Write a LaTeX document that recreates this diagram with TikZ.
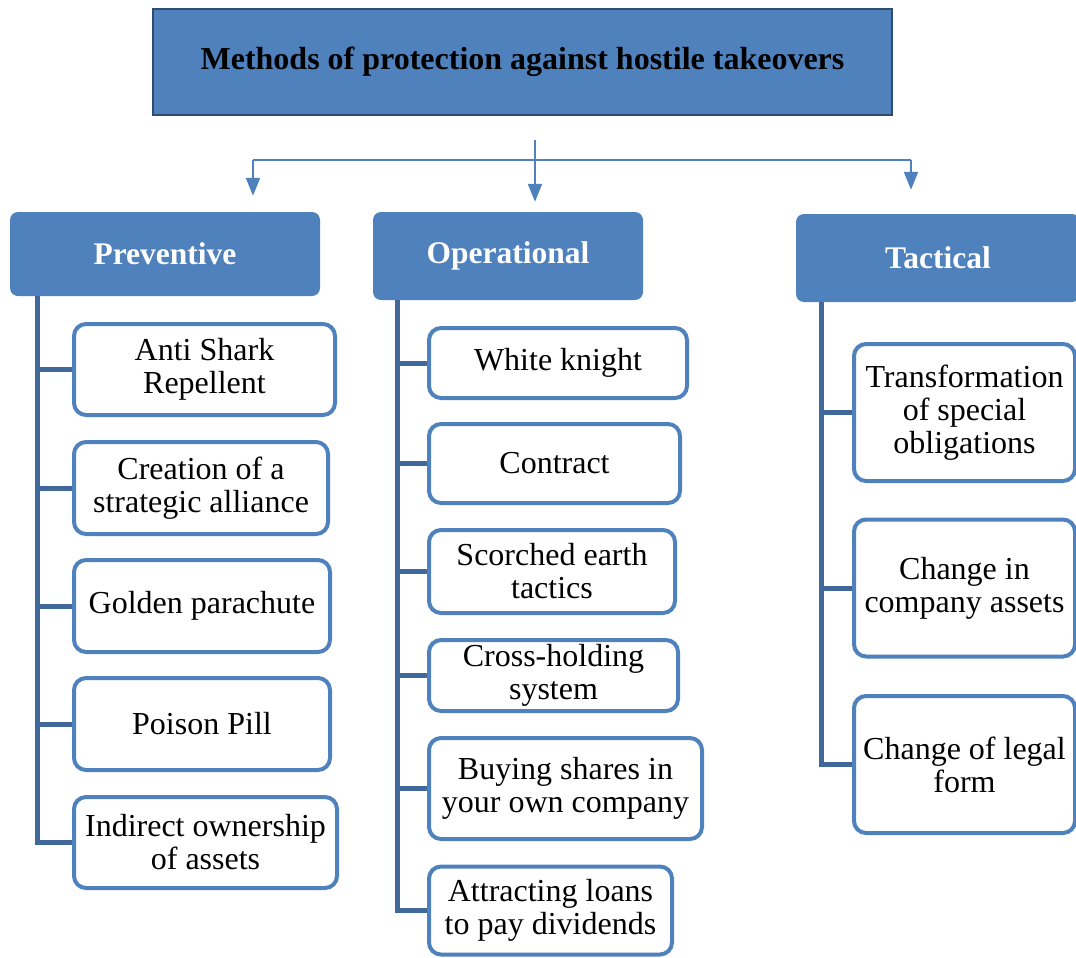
\documentclass[tikz,border=0pt]{standalone}
\usepackage{fontspec}
\setmainfont{Liberation Serif}
\usetikzlibrary{arrows.meta, positioning, calc}
\definecolor{hdblue}{HTML}{4F81BD}
\definecolor{hdborder}{HTML}{2F4B70}
\definecolor{branchblue}{HTML}{41689A}

\begin{document}
\begin{tikzpicture}[x=1pt, y=-1pt,
  titlebox/.style={draw=hdborder, fill=hdblue, line width=2.5pt, minimum width=739pt, minimum height=106pt, font=\fontsize{32}{34}\selectfont\bfseries},
  headbox/.style={fill=hdblue, rounded corners=8pt, text=white, font=\fontsize{31.5}{34}\selectfont\bfseries},
  itembox/.style={draw=hdblue, fill=white, line width=4pt, rounded corners=12pt, align=center, anchor=west, inner sep=0pt, font=\fontsize{32}{33}\selectfont},
  branch/.style={draw=branchblue, line width=5pt},
  bus/.style={draw=hdblue, line width=2pt},
  arr/.style={bus, -{Triangle[width=14pt,length=18pt]}}
]
\useasboundingbox (0,0) rectangle (1076,958);

% title and the three groups
\node[titlebox] (title) at (522.5,62) {Methods of protection against hostile takeovers};
\node[headbox, minimum width=310pt, minimum height=84pt] (prev) at (165,254) {Preventive};
\node[headbox, minimum width=270pt, minimum height=88pt] (oper) at (508,256) {Operational};
\node[headbox, minimum width=284pt, minimum height=88pt] (tact) at (938,258) {Tactical};

\coordinate (split) at (535,140);
\coordinate (busL) at (253,160);
\coordinate (busR) at (911,160);
\draw[bus] (busL) -- (busR);
\draw[arr, shorten >=10pt] (split) -- (split |- oper.north);
\draw[arr, shorten >=16pt] (busL) -- (busL |- prev.north);
\draw[arr, shorten >=24pt] (busR) -- (busR |- tact.north);

% preventive
\node[itembox, minimum width=261pt, minimum height=91pt] (p1) at (72,369.5) {Anti Shark\\Repellent};
\node[itembox, minimum width=254pt, minimum height=92pt] (p2) at (72,488) {Creation of a\\strategic alliance};
\node[itembox, minimum width=256pt, minimum height=92pt] (p3) at (72,606) {Golden parachute};
\node[itembox, minimum width=256pt, minimum height=92pt] (p4) at (72,724) {Poison Pill};
\node[itembox, minimum width=263pt, minimum height=91pt] (p5) at (72,842.5) {Indirect ownership\\of assets};

% operational
\node[itembox, minimum width=258pt, minimum height=70pt] (o1) at (427,363) {White knight};
\node[itembox, minimum width=251pt, minimum height=79pt] (o2) at (427,463.5) {Contract};
\node[itembox, minimum width=246pt, minimum height=83pt] (o3) at (427,571.5) {Scorched earth\\tactics};
\node[itembox, minimum width=249pt, minimum height=71pt] (o4) at (427,675.5) {Cross-holding\\system};
\node[itembox, minimum width=273pt, minimum height=101pt] (o5) at (427,788.5) {Buying shares in\\your own company};
\node[itembox, minimum width=243pt, minimum height=88pt] (o6) at (427,910.5) {Attracting loans\\to pay dividends};

% tactical
\node[itembox, minimum width=221pt, minimum height=137pt] (t1) at (852,412.5) {Transformation\\of special\\obligations};
\node[itembox, minimum width=221pt, minimum height=137pt] (t2) at (852,588) {Change in\\company assets};
\node[itembox, minimum width=221pt, minimum height=137pt] (t3) at (852,764.5) {Change of legal\\form};

% branches
\draw[branch] ([xshift=28pt]prev.south west) |- (p5.west);
\foreach \n in {p1,p2,p3,p4} \draw[branch] (\n.west) -- ++(-34,0);
\draw[branch] ([xshift=25pt]oper.south west) |- (o6.west);
\foreach \n in {o1,o2,o3,o4,o5} \draw[branch] (\n.west) -- ++(-29,0);
\draw[branch] ([xshift=26pt]tact.south west) |- (t3.west);
\foreach \n in {t1,t2} \draw[branch] (\n.west) -- ++(-30,0);
\end{tikzpicture}
\end{document}
